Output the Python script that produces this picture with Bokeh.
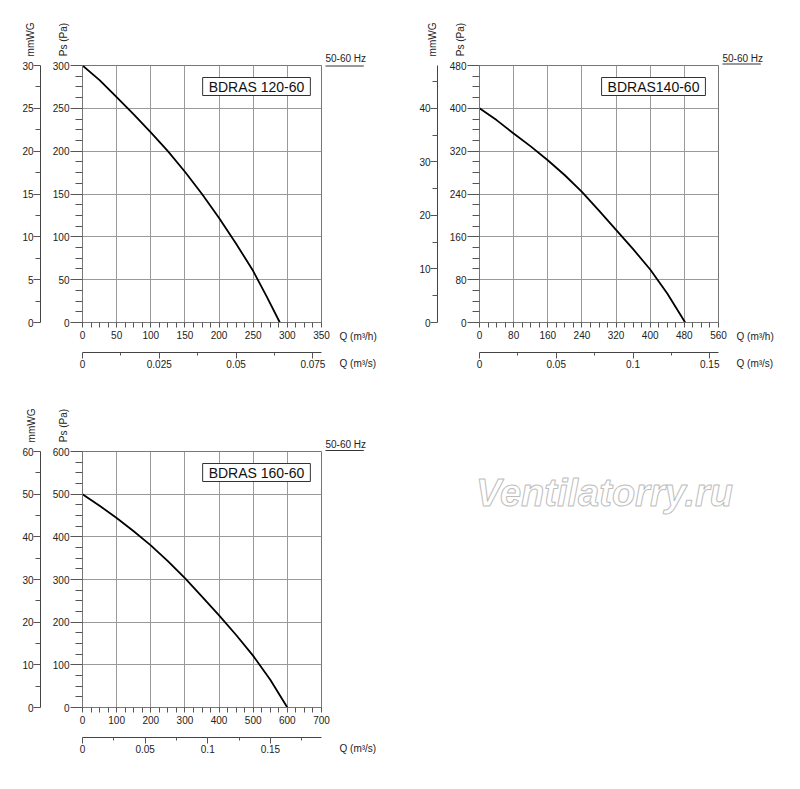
from math import pi
import numpy as np
from bokeh.plotting import figure
from bokeh.models import (Range1d, LinearAxis, FixedTicker, Label, Grid,
                          NumeralTickFormatter)
from bokeh.layouts import column, row
from bokeh.embed import file_html
from bokeh.resources import INLINE

FONT = "Liberation Sans"

# ---------------- data ----------------
# BDRAS 120-60
c1_q = [0, 25, 50, 75, 100, 125, 150, 175, 200, 225, 250, 270, 289]
c1_ps = [300, 283, 263, 243, 222, 200, 176, 150, 122, 92, 60, 30, 0]
c1_x_ticks = [0, 50, 100, 150, 200, 250, 300, 350]
c1_ps_ticks = [0, 50, 100, 150, 200, 250, 300]
c1_mm_ticks = [0, 5, 10, 15, 20, 25, 30]
c1_qs_ticks = [0, 0.025, 0.05, 0.075]

# BDRAS140-60
c2_q = [0, 40, 80, 120, 160, 200, 240, 280, 320, 360, 400, 440, 482]
c2_ps = [400, 378, 353, 329, 303, 275, 244, 209, 173, 137, 99, 54, 0]
c2_x_ticks = [0, 80, 160, 240, 320, 400, 480, 560]
c2_ps_ticks = [0, 80, 160, 240, 320, 400, 480]
c2_mm_ticks = [0, 10, 20, 30, 40]
c2_qs_ticks = [0, 0.05, 0.1, 0.15]

# BDRAS 160-60
c3_q = [0, 50, 100, 150, 200, 250, 300, 350, 400, 450, 500, 550, 600]
c3_ps = [500, 473, 444, 413, 380, 343, 303, 260, 216, 170, 121, 65, 0]
c3_x_ticks = [0, 100, 200, 300, 400, 500, 600, 700]
c3_ps_ticks = [0, 100, 200, 300, 400, 500, 600]
c3_mm_ticks = [0, 10, 20, 30, 40, 50, 60]
c3_qs_ticks = [0, 0.05, 0.1, 0.15]

titles = ["BDRAS 120-60", "BDRAS140-60", "BDRAS 160-60"]


def minors(major, sub, top):
    step = (major[1] - major[0]) / sub
    vals = np.arange(0, top + 1e-9, step)
    return [float(v) for v in vals if not any(abs(v - m) < 1e-9 for m in major)]


def axis_style(ax, tick_out, minor_out, standoff):
    ax.axis_line_color = "#777777"
    ax.major_tick_line_color = "#555555"
    ax.minor_tick_line_color = "#555555"
    ax.major_tick_out = tick_out
    ax.major_tick_in = 0
    ax.minor_tick_out = minor_out
    ax.minor_tick_in = 0
    ax.major_label_standoff = standoff
    ax.major_label_text_font = FONT
    ax.major_label_text_font_size = "10px"
    ax.major_label_text_color = "#222222"


def make_chart(q, ps, title, x_ticks, x_sub, ps_ticks, ps_sub, mm_ticks, mm_sub,
               mm_max, qs_ticks, qs_sub, qs_max, geom, mm_dx, ul_dy, show_qh=True):
    W, H, ox, oy, bl, bt, fw, fh = geom
    xmax = x_ticks[-1]
    ymax = ps_ticks[-1]
    p = figure(width=W, height=H, output_backend="svg", toolbar_location=None,
               x_range=Range1d(0, xmax), y_range=Range1d(0, ymax),
               x_axis_type=None, y_axis_type=None,
               min_border_left=bl, min_border_right=W - bl - fw,
               min_border_top=bt, min_border_bottom=H - bt - fh)
    p.background_fill_color = "white"
    p.border_fill_color = "white"
    p.outline_line_color = "#777777"
    p.extra_y_ranges = {"mm": Range1d(0, mm_max)}
    p.extra_x_ranges = {"qs": Range1d(0, qs_max)}

    FL, FT = ox + bl, oy + bt
    FB = FT + fh

    def dx(px):
        return (px - FL) / fw * xmax

    def dy(py):
        return (FB - py) / fh * ymax

    xt = FixedTicker(ticks=x_ticks, minor_ticks=minors(x_ticks, x_sub, xmax))
    yt = FixedTicker(ticks=ps_ticks, minor_ticks=minors(ps_ticks, ps_sub, ymax))

    # Ps axis
    ya = LinearAxis(ticker=yt)
    axis_style(ya, 12, 7, 1)
    ya.axis_label = " "
    ya.axis_label_text_font_size = "5px"
    ya.axis_label_standoff = 0
    p.add_layout(ya, "left")
    # mmWG axis
    ma = LinearAxis(y_range_name="mm",
                    ticker=FixedTicker(ticks=mm_ticks,
                                       minor_ticks=minors(mm_ticks, mm_sub, mm_max)))
    axis_style(ma, 7, 5, 0)
    ma.axis_line_color = "#444444"
    p.add_layout(ma, "left")
    # Q m3/h axis
    xa = LinearAxis(ticker=xt)
    axis_style(xa, 5, 5, 3)
    xa.axis_label = " "
    xa.axis_label_text_font_size = "6px"
    xa.axis_label_standoff = 2
    p.add_layout(xa, "below")
    # Q m3/s axis
    sa = LinearAxis(x_range_name="qs",
                    ticker=FixedTicker(ticks=qs_ticks,
                                       minor_ticks=minors(qs_ticks, qs_sub, qs_max)),
                    formatter=NumeralTickFormatter(format="0.[000]"))
    axis_style(sa, 6, 3, 1)
    sa.axis_line_color = "#444444"
    p.add_layout(sa, "below")

    p.add_layout(Grid(dimension=0, ticker=xt, grid_line_color="#9a9a9a"))
    p.add_layout(Grid(dimension=1, ticker=yt, grid_line_color="#9a9a9a"))

    p.line(q, ps, line_color="black", line_width=1.8)

    def lab(side, px, py, text, **kw):
        opts = dict(text_font=FONT, text_font_size="10px", text_color="#222222",
                    text_baseline="middle", text_align="left")
        opts.update(kw)
        p.add_layout(Label(x=dx(px), y=dy(py), text=text, **opts), side)

    # vertical unit labels (placed in side panels so they are not clipped)
    lab("above", FL - 19, FT - 26, "Ps (Pa)", angle=pi / 2, text_align="center")
    lab("right", FL + mm_dx, FT - 26, "mmWG", angle=pi / 2, text_align="center")
    # frequency label with underline
    lab("above", FL + fw + 4, FT - 7, "50-60 Hz")
    lab("above", FL + fw + 4, FT + ul_dy, " ", text_font_size="1px",
        background_fill_color="#333333", padding=(19, 19, 0, 0))
    # axis names
    if show_qh:
        lab("right", FL + fw + 18, FB + 14, "Q (m³/h)")
    lab("below", FL + fw + 18, FB + 41, "Q (m³/s)")
    # model box
    p.add_layout(Label(x=dx(FL + 174), y=dy(FT + 21), text=title,
                       text_font=FONT, text_font_size="14px", text_color="#111111",
                       text_align="center", text_baseline="middle",
                       border_line_color="#333333", border_line_width=1,
                       background_fill_color="white", padding=(6, 6, 1, 1)))
    return p, dx, dy


p1, _, _ = make_chart(c1_q, c1_ps, titles[0], c1_x_ticks, 4, c1_ps_ticks, 4,
                      c1_mm_ticks, 2, 30, c1_qs_ticks, 2, 0.0778,
                      (405, 394, 0, 0, 82, 65, 239, 257), -52, 0.5)
p2, _, _ = make_chart(c2_q, c2_ps, titles[1], c2_x_ticks, 4, c2_ps_ticks, 4,
                      c2_mm_ticks, 2, 48, c2_qs_ticks, 2, 0.1557,
                      (387, 394, 405, 0, 74, 65, 239, 257), -47, -1.5)
p3, dx3, dy3 = make_chart(c3_q, c3_ps, titles[2], c3_x_ticks, 4, c3_ps_ticks, 4,
                          c3_mm_ticks, 2, 60, c3_qs_ticks, 2, 0.1908,
                          (792, 387, 0, 394, 82, 57, 239, 256), -51, -1,
                          show_qh=False)

p3.add_layout(Label(x=dx3(604), y=dy3(492), text="Ventilatorry.ru",
                    text_font=FONT, text_font_size="38px",
                    text_font_style="bold italic", text_color="white",
                    text_outline_color="#bdbdbd",
                    text_align="center", text_baseline="middle"), "right")

layout = column(row(p1, p2), p3)
open("out.html", "w").write(file_html(layout, INLINE))
